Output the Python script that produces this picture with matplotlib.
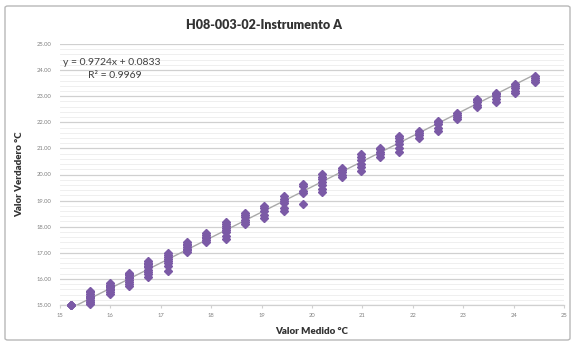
import matplotlib
matplotlib.use("Agg")
import matplotlib.pyplot as plt
from matplotlib.ticker import MultipleLocator, FormatStrFormatter
from matplotlib.patches import FancyBboxPatch
import numpy as np

plt.rcParams['font.family'] = ['Lato', 'DejaVu Sans']

title = "H08-003-02-Instrumento A"
x_label = "Valor Medido °C"
y_label = "Valor Verdadero °C"

# measured value of each cluster
x_medido = [15.22, 15.60, 15.99, 16.37, 16.75, 17.14, 17.52, 17.90, 18.29, 18.67,
            19.05, 19.44, 19.82, 20.20, 20.59, 20.97, 21.35, 21.73, 22.12, 22.50,
            22.88, 23.27, 23.65, 24.03, 24.42]
# true values observed for each measured value
y_verdadero = [
    [15.00, 15.00, 15.01, 15.00],
    [15.02, 15.10, 15.12, 15.18, 15.25, 15.30, 15.36, 15.42, 15.48, 15.52],
    [15.42, 15.50, 15.56, 15.60, 15.62, 15.68, 15.73, 15.78, 15.83],
    [15.74, 15.82, 15.90, 15.97, 16.03, 16.08, 16.14, 16.20, 16.24],
    [16.06, 16.18, 16.28, 16.36, 16.44, 16.50, 16.56, 16.62, 16.68],
    [16.32, 16.50, 16.62, 16.70, 16.78, 16.85, 16.92, 16.98],
    [17.02, 17.10, 17.16, 17.22, 17.28, 17.34, 17.40],
    [17.42, 17.50, 17.56, 17.62, 17.68, 17.74],
    [17.52, 17.66, 17.80, 17.88, 17.96, 18.04, 18.12, 18.18],
    [18.10, 18.18, 18.26, 18.38, 18.46, 18.54],
    [18.35, 18.45, 18.62, 18.72, 18.80],
    [18.62, 18.72, 18.90, 19.00, 19.08, 19.16],
    [18.88, 19.30, 19.38, 19.55, 19.65],
    [19.32, 19.45, 19.58, 19.70, 19.82, 19.92, 20.02],
    [19.90, 20.00, 20.10, 20.18, 20.25],
    [20.12, 20.30, 20.42, 20.55, 20.68, 20.78],
    [20.66, 20.78, 20.88, 20.96, 21.02],
    [20.88, 21.02, 21.15, 21.28, 21.38, 21.46],
    [21.40, 21.50, 21.58, 21.66],
    [21.68, 21.78, 21.92, 22.00, 22.06],
    [22.12, 22.20, 22.28, 22.34],
    [22.58, 22.68, 22.76, 22.84, 22.90],
    [22.78, 22.88, 23.02, 23.08, 23.14],
    [23.12, 23.20, 23.32, 23.40, 23.47],
    [23.55, 23.62, 23.70, 23.76],
]
slope = 0.9724
intercept = 0.0833
r2 = 0.9969

xs = [x for x, ys in zip(x_medido, y_verdadero) for _ in ys]
ys = [y for ys_ in y_verdadero for y in ys_]

fig = plt.figure(figsize=(5.73, 3.45), dpi=100)
fig.patch.set_facecolor('white')

# chart frame
frame = FancyBboxPatch((5/573, 5/345), 565/573, 334/345,
                       boxstyle="round,pad=0,rounding_size=0.005",
                       transform=fig.transFigure, fill=False,
                       edgecolor='#b8b8b8', linewidth=1.0)
fig.patches.append(frame)

ax = fig.add_axes([60/573, 1 - 305/345, 504/573, 261/345])
ax.set_xlim(15, 25)
ax.set_ylim(15, 25)

ax.yaxis.set_major_locator(MultipleLocator(1))
ax.yaxis.set_minor_locator(MultipleLocator(0.2))
ax.xaxis.set_major_locator(MultipleLocator(1))
ax.yaxis.set_major_formatter(FormatStrFormatter('%.2f'))
ax.grid(axis='y', which='major', color='#d0d0d0', linewidth=0.9)
ax.grid(axis='y', which='minor', color='#ececec', linewidth=0.6)
ax.set_axisbelow(True)

for s in ['top', 'right', 'left']:
    ax.spines[s].set_visible(False)
ax.spines['bottom'].set_color('#d0d0d0')
ax.spines['bottom'].set_linewidth(0.9)

ax.tick_params(axis='both', which='both', labelsize=4.2, colors='#d0d0d0',
               labelcolor='#808080')
ax.tick_params(axis='y', which='both', length=0, pad=6)
ax.tick_params(axis='x', which='major', length=2, pad=4)

# trendline
xl = np.array([min(x_medido), max(x_medido)])
ax.plot(xl, slope * xl + intercept, color='#a9a9a9', linewidth=1.0, zorder=2)

ax.plot(xs, ys, linestyle='none', marker='D', markersize=4.0,
        color='#7b5aa6', markeredgecolor='#7b5aa6', zorder=3, clip_on=False)

fig.text(264/573, 1 - 25/345, title, fontsize=9.0, fontweight='heavy',
         color='#333333', ha='center', va='center')
ax.set_xlabel(x_label, fontsize=7, fontweight='heavy', color='#333333', labelpad=6)
ax.set_ylabel(y_label, fontsize=7, fontweight='heavy', color='#333333', labelpad=9)

ax.text(0.005, 0.93, f"y = {slope}x + {intercept}", transform=ax.transAxes,
        fontsize=7.5, color='#404040', va='center', ha='left')
ax.text(0.056, 0.88, f"R² = {r2}", transform=ax.transAxes,
        fontsize=7.5, color='#404040', va='center', ha='left')

fig.savefig("out.png", dpi=100)
